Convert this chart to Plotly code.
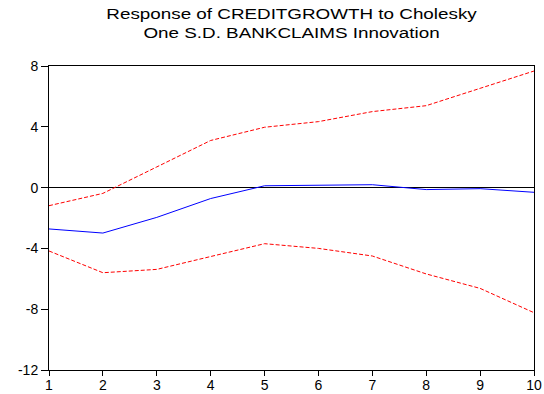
import plotly.graph_objects as go

periods = [1, 2, 3, 4, 5, 6, 7, 8, 9, 10]
response = [-2.72, -2.99, -1.96, -0.72, 0.12, 0.17, 0.19, -0.13, -0.07, -0.31]
upper_band = [-1.19, -0.38, 1.36, 3.1, 3.97, 4.34, 5.0, 5.39, 6.53, 7.67]
lower_band = [-4.17, -5.6, -5.38, -4.55, -3.69, -4.0, -4.5, -5.68, -6.63, -8.23]
y_ticks = [-12, -8, -4, 0, 4, 8]
y_tick_labels = ["-12", "-8", "-4", "0", "4", "8"]

fig = go.Figure()
fig.add_trace(go.Scatter(x=periods, y=upper_band, mode="lines",
                         line=dict(color="#ff0000", width=1, dash="4px,2px")))
fig.add_trace(go.Scatter(x=periods, y=lower_band, mode="lines",
                         line=dict(color="#ff0000", width=1, dash="4px,2px")))
fig.add_trace(go.Scatter(x=periods, y=response, mode="lines",
                         line=dict(color="#0000ff", width=1)))

fig.update_layout(
    width=544, height=394,
    margin=dict(l=49, r=10, t=66, b=24, autoexpand=False),
    paper_bgcolor="white", plot_bgcolor="white",
    showlegend=False,
    font=dict(family="Liberation Sans, Arial, sans-serif", size=14, color="black"),
    annotations=[dict(text="Response of CREDITGROWTH to Cholesky<br>One S.D. BANKCLAIMS Innovation",
                      xref="paper", yref="paper", x=0.5, y=1, yshift=62,
                      xanchor="center", yanchor="top", showarrow=False,
                      font=dict(size=14.5, color="black"))],
)
fig.update_xaxes(range=[1, 10], tickvals=periods, showgrid=False, zeroline=False,
                 showline=True, linecolor="black", linewidth=1, mirror=True,
                 ticks="outside", ticklen=5, tickcolor="black", automargin=False,
                 ticklabelstandoff=-3)
fig.update_yaxes(range=[-12, 8], tickvals=y_ticks, ticktext=y_tick_labels, showgrid=False,
                 zeroline=True, zerolinecolor="black", zerolinewidth=1,
                 showline=True, linecolor="black", linewidth=1, mirror=True,
                 ticks="outside", ticklen=7, tickcolor="black", automargin=False)

post = """
document.body.style.margin='0';
try {
  document.querySelectorAll('text.annotation-text').forEach(function(t){
    t.style.transformBox='fill-box';
    t.style.transformOrigin='center';
    t.style.transform='scaleX(1.3)';
  });
} catch(e) {}
"""
fig.write_html("out.html", post_script=post, config={"displayModeBar": False})
